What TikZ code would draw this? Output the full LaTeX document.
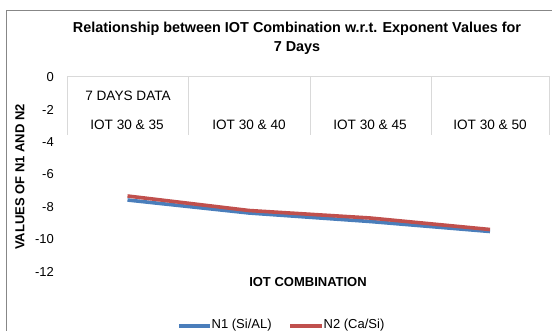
\documentclass[tikz,border=0pt]{standalone}
\usepackage{fontspec}
\setmainfont{Liberation Sans}
\begin{document}
\begin{tikzpicture}[x=1pt,y=-1pt,
  frame/.style={draw={rgb,255:red,135;green,135;blue,135},line width=1.6pt},
  gridln/.style={draw={rgb,255:red,217;green,217;blue,217},line width=0.8pt},
  ticklbl/.style={anchor=east,inner sep=0pt,font=\fontsize{13}{15}\selectfont},
  catlbl/.style={inner sep=0pt,font=\fontsize{13.6}{15}\selectfont},
  axtitle/.style={inner sep=0pt,font=\bfseries\fontsize{13}{15}\selectfont},
  series/.style={line width=3.6pt,line join=round},
  serN1/.style={series,draw={rgb,255:red,74;green,126;blue,187}},
  serN2/.style={series,draw={rgb,255:red,192;green,80;blue,77}},
  legtxt/.style={anchor=west,inner sep=0pt,font=\fontsize{13}{15}\selectfont}]
\useasboundingbox (0,0) rectangle (552,331);
\clip (0,0) rectangle (552,331);

% chart frame (runs off the right and bottom edges)
\draw[frame] (6.5,10.5) rectangle (570,350);

% title
\node[align=center,inner sep=0pt,font=\bfseries\fontsize{14.4}{19.5}\selectfont] (title) at (297,38.5)
  {Relationship between IOT Combination w.r.t. Exponent Values for\\7 Days};

% category axis box with its dividers
\draw[gridln] (67.5,76.5) -- (549,76.5);
\foreach \xx in {67.5,188,310,431,549}
  \draw[gridln] (\xx,76.5) -- (\xx,135);

% value axis labels
\foreach \v [count=\k from 0] in {0,-2,-4,-6,-8,-10,-12}
  \node[ticklbl] (tick\k) at (54,77+32.5*\k) {\v};

% category labels
\node[catlbl] (outer) at (128,96) {7 DAYS DATA};
\node[catlbl] (catA) at (127,125) {IOT 30 \& 35};
\node[catlbl] (catB) at (249,125) {IOT 30 \& 40};
\node[catlbl] (catC) at (370,125) {IOT 30 \& 45};
\node[catlbl] (catD) at (490,125) {IOT 30 \& 50};

% axis titles
\node[axtitle,rotate=90] (ytitle) at (20,177) {VALUES OF N1 AND N2};
\node[axtitle] (xtitle) at (308,282) {IOT COMBINATION};

% data series
\coordinate (a1) at (127.5,200);
\coordinate (a2) at (249,213);
\coordinate (a3) at (370,221.5);
\coordinate (a4) at (490,231.5);
\coordinate (b1) at (127.5,196);
\coordinate (b2) at (249,210.5);
\coordinate (b3) at (370,218);
\coordinate (b4) at (490,229.5);
\draw[serN1] (a1) -- (a2) -- (a3) -- (a4);
\draw[serN2] (b1) -- (b2) -- (b3) -- (b4);

% legend
\coordinate (l1s) at (179,326);
\coordinate (l1e) at (210,326);
\coordinate (l2s) at (290,326);
\coordinate (l2e) at (322,326);
\draw[serN1] (l1s) -- (l1e);
\node[legtxt] (leg1) at (211.5,325.5) {N1 (Si/AL)};
\draw[serN2] (l2s) -- (l2e);
\node[legtxt] (leg2) at (323.5,325.5) {N2 (Ca/Si)};
\end{tikzpicture}
\end{document}
